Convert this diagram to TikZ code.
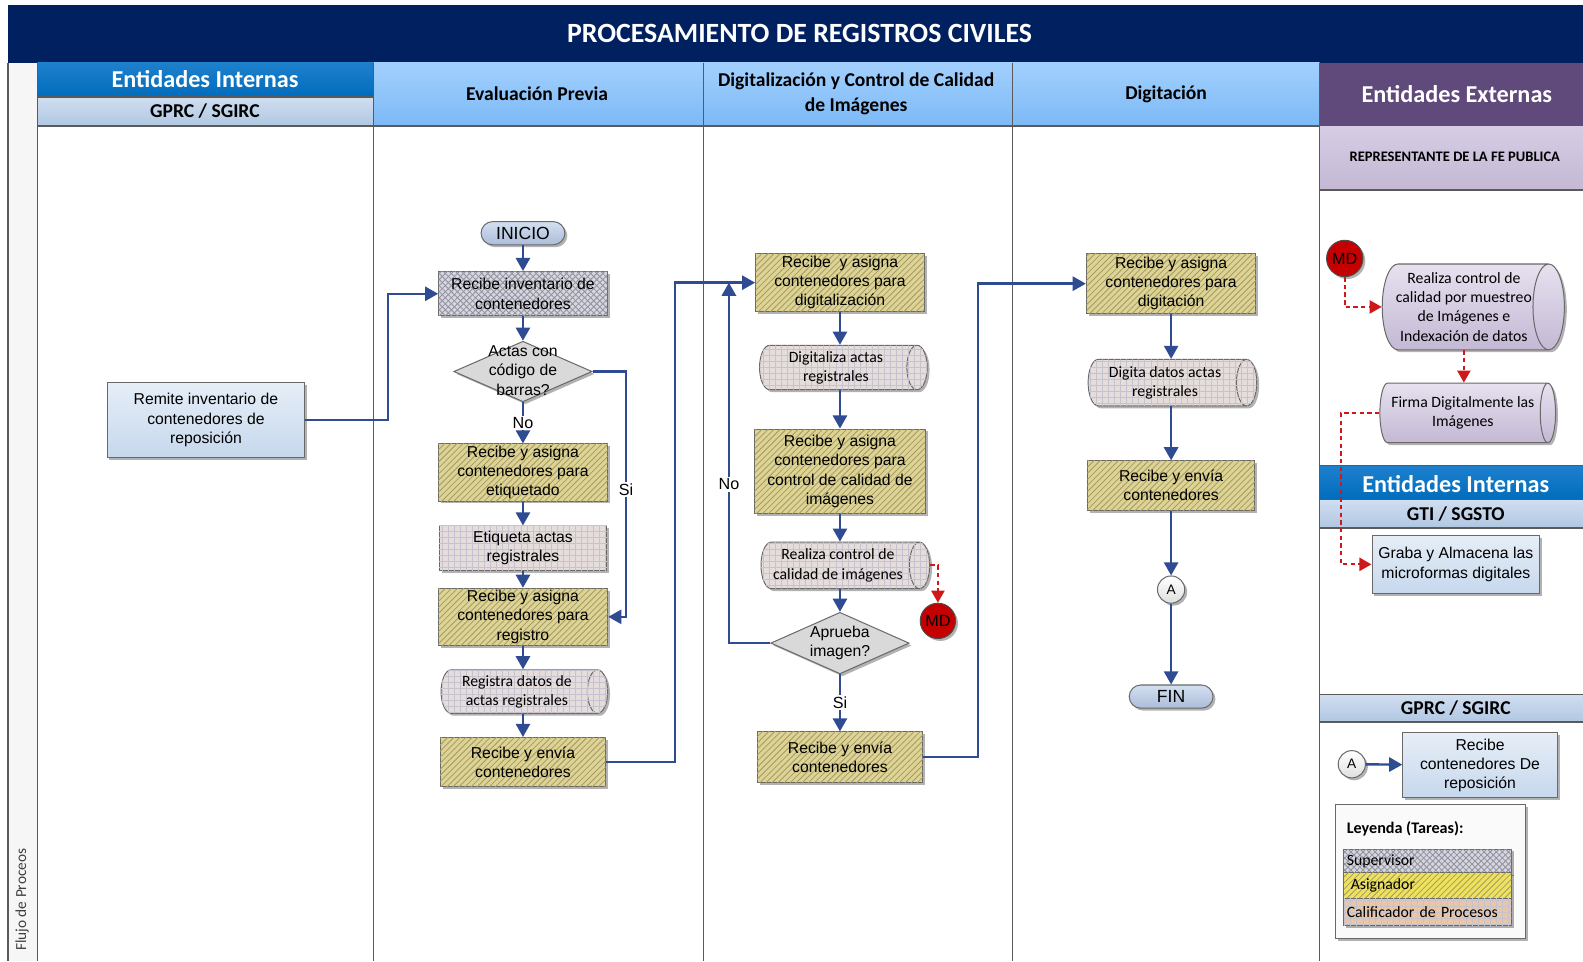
\documentclass[tikz,border=0pt]{standalone}
\usepackage{fontspec}
\setmainfont{Liberation Sans}
\newfontfamily\calibri{Carlito}
\usepackage{tikz}
\usetikzlibrary{arrows.meta}
\usetikzlibrary{shapes.geometric}
\usetikzlibrary{patterns}
\usetikzlibrary{shadows}
\definecolor{marino}{RGB}{0,32,96}
\definecolor{azulent}{RGB}{0,108,188}
\definecolor{azulentclaro}{RGB}{30,128,205}
\definecolor{gprcA}{RGB}{208,222,240}
\definecolor{gprcB}{RGB}{176,199,226}
\definecolor{colA}{RGB}{162,208,253}
\definecolor{colB}{RGB}{124,185,246}
\definecolor{morado}{RGB}{96,74,123}
\definecolor{moradoA}{RGB}{214,205,228}
\definecolor{moradoB}{RGB}{196,184,212}
\definecolor{flecha}{RGB}{47,75,145}
\definecolor{rojo}{RGB}{196,0,0}
\definecolor{discont}{RGB}{205,25,25}
\definecolor{caqui}{RGB}{221,211,148}
\definecolor{caquilinea}{RGB}{165,155,100}
\definecolor{gris}{RGB}{214,214,222}
\definecolor{grislinea}{RGB}{145,145,160}
\definecolor{rosado}{RGB}{229,221,219}
\definecolor{rosadolinea}{RGB}{198,194,206}
\definecolor{cajaA}{RGB}{230,238,247}
\definecolor{cajaB}{RGB}{198,216,237}
\definecolor{borde}{RGB}{105,105,105}
\definecolor{carril}{RGB}{90,90,90}
\tikzstyle{letra}=[font=\fontsize{7.8}{9.5}\selectfont]
\tikzstyle{letracal}=[font=\calibri\fontsize{7.8}{9.5}\selectfont]
\tikzstyle{sombra}=[drop shadow={shadow xshift=1.2pt, shadow yshift=-1.2pt, opacity=0.3, fill=black}]
\tikzstyle{tarea}=[draw=borde, line width=0.5pt, align=center, inner sep=1pt, letra, sombra]
\tikzstyle{supervisor}=[tarea, fill=gris, postaction={pattern=crosshatch, pattern color=grislinea}]
\tikzstyle{asignador}=[tarea, fill=caqui, postaction={pattern=north east lines, pattern color=caquilinea}]
\tikzstyle{calificador}=[tarea, fill=rosado, postaction={pattern=grid, pattern color=rosadolinea}]
\tikzstyle{cilindro}=[calificador, cylinder, shape aspect=0.55, letracal]
\tikzstyle{externo}=[tarea, cylinder, shape aspect=0.45, inner sep=0.3pt, letracal, top color=moradoA!60!white, bottom color=moradoB]
\tikzstyle{caja}=[tarea, top color=cajaA, bottom color=cajaB]
\tikzstyle{terminal}=[draw=borde, line width=0.5pt, rounded corners=5.75pt, minimum width=41.5pt, minimum height=11.5pt, inner sep=0pt, top color=cajaB!80!white, bottom color=cajaB!60!flecha!70!white, font=\fontsize{8.7}{9}\selectfont, sombra]
\tikzstyle{rombo}=[diamond, draw=borde, line width=0.5pt, fill=gray!30, minimum width=68.5pt, minimum height=30pt, inner sep=0pt, sombra]
\tikzstyle{md}=[circle, draw=black!70, line width=0.5pt, fill=rojo, minimum size=17.5pt, inner sep=0pt, font=\fontsize{8}{9}\selectfont, sombra]
\tikzstyle{conector}=[circle, draw=borde, line width=0.5pt, top color=white, bottom color=gray!25, minimum size=13.5pt, inner sep=0pt, font=\fontsize{6.8}{7}\selectfont, sombra]
\tikzstyle{flujo}=[draw=flecha, line width=1.2pt, -{Triangle[length=6.5pt, width=7pt]}]
\tikzstyle{flujomd}=[draw=discont, line width=1.1pt, dash pattern=on 2.2pt off 1.6pt, -{Triangle[length=6pt, width=6.5pt]}]
\tikzstyle{rotulo}=[fill=white, inner sep=0.8pt, font=\fontsize{8}{9}\selectfont]
\tikzstyle{cabecera}=[font=\calibri\bfseries\fontsize{9.7}{12}\selectfont, align=center]
\tikzstyle{entidad}=[font=\calibri\bfseries\fontsize{12}{14}\selectfont, text=white]
\tikzstyle{lineacarril}=[draw=carril, line width=0.7pt]

\begin{document}
\begin{tikzpicture}[x=0.5pt, y=-0.5pt]
  \useasboundingbox (0,0) rectangle (1568,952);

  % cabeceras
  \fill[marino] (8,5) rectangle (1568,62);
  \node[font=\calibri\bfseries\fontsize{13.8}{15}\selectfont, text=white] (titulo) at (792,33) {PROCESAMIENTO DE REGISTROS CIVILES};
  \fill[gray!7] (8,62) rectangle (37,952);
  \node[rotate=90, anchor=west, font=\calibri\fontsize{7.6}{9}\selectfont, text=black!75] (flujoproc) at (22,949) {Flujo de Proceos};
  \shade[top color=azulentclaro, bottom color=azulent] (37,62) rectangle (370,96);
  \shade[top color=gprcA, bottom color=gprcB] (37,96) rectangle (370,125);
  \shade[top color=colA, bottom color=colB] (370,62) rectangle (1307,125);
  \fill[morado] (1307,62) rectangle (1568,125);
  \shade[top color=moradoA, bottom color=moradoB] (1307,125) rectangle (1568,188);
  \shade[top color=azulentclaro, bottom color=azulent] (1307,461) rectangle (1568,495);
  \shade[top color=gprcA, bottom color=gprcB] (1307,495) rectangle (1568,523);
  \shade[top color=gprcA, bottom color=gprcB] (1307,688) rectangle (1568,715);
  \node[entidad] (entint) at (203,78) {Entidades Internas};
  \node[cabecera] (gprc) at (203,110) {GPRC / SGIRC};
  \node[cabecera] (evalprev) at (532,93) {Evaluación Previa};
  \node[cabecera] (digcal) at (848,93) {Digitalización y Control de Calidad\\de Imágenes};
  \node[cabecera] (digitac) at (1155,93) {Digitación};
  \node[entidad] (entext) at (1443,93) {Entidades Externas};
  \node[font=\calibri\bfseries\fontsize{7.2}{9}\selectfont] (repfe) at (1441,155) {REPRESENTANTE DE LA FE PUBLICA};
  \node[entidad] (entint2) at (1442,479) {Entidades Internas};
  \node[cabecera] (gti) at (1442,509) {GTI / SGSTO};
  \node[cabecera] (gprc2) at (1442,701) {GPRC / SGIRC};
  \foreach \x in {8,37,370,697,1003,1307}
    \draw[lineacarril] (\x,62) -- (\x,952);
  \draw[lineacarril] (37,96) -- (370,96);
  \draw[lineacarril] (37,125) -- (1307,125);
  \draw[lineacarril] (1307,188) -- (1568,188);
  \draw[lineacarril] (1307,461) -- (1568,461);
  \draw[lineacarril] (1307,495) -- (1568,495);
  \draw[lineacarril] (1307,523) -- (1568,523);
  \draw[lineacarril] (1307,688) -- (1568,688);
  \draw[lineacarril] (1307,715) -- (1568,715);

  % tareas
  \node[caja, minimum width=98pt, minimum height=37.5pt] (remite) at (204,416) {Remite inventario de\\contenedores de\\reposición};
  \node[terminal] (inicio) at (518,231) {INICIO};
  \node[supervisor, minimum width=83.5pt, minimum height=22pt] (recinv) at (518,291) {Recibe inventario de\\contenedores};
  \node[rombo] (barras) at (518,368) {};
  \node[letra, align=center] (barrastxt) at (518,367) {Actas con\\código de\\barras?};
  \node[asignador, minimum width=84pt, minimum height=28pt] (asigetiq) at (518,468) {Recibe y asigna\\contenedores para\\etiquetado};
  \node[calificador, minimum width=83pt, minimum height=22pt] (etiqueta) at (518,543) {Etiqueta actas\\registrales};
  \node[asignador, minimum width=84pt, minimum height=27.5pt] (asigreg) at (518,611) {Recibe y asigna\\contenedores para\\registro};
  \node[cilindro, minimum height=82.5pt, minimum width=21.5pt] (registra) at (512,685) {Registra datos de\\actas registrales};
  \node[asignador, minimum width=82pt, minimum height=24.5pt] (enviaep) at (518,755) {Recibe y envía\\contenedores};

  \node[asignador, minimum width=83.5pt, minimum height=29pt] (asigdig) at (832,280) {Recibe\ \ y asigna\\contenedores para\\digitalización};
  \node[cilindro, minimum height=83pt, minimum width=22pt] (digitaliza) at (828,364) {Digitaliza actas\\registrales};
  \node[asignador, minimum width=84.5pt, minimum height=42pt] (asigcc) at (832,467) {Recibe y asigna\\contenedores para\\control de calidad de\\imágenes};
  \node[cilindro, minimum height=83.5pt, minimum width=23pt] (realiza) at (830,560) {Realiza control de\\calidad de imágenes};
  \node[rombo, minimum height=30.5pt] (aprueba) at (832,637) {};
  \node[letra, align=center] (apruebatxt) at (832,637) {Aprueba\\imagen?};
  \node[asignador, minimum width=82pt, minimum height=25pt] (enviadc) at (832,750) {Recibe y envía\\contenedores};
  \node[md] (md1) at (929,615) {MD};

  \node[asignador, minimum width=84pt, minimum height=30pt] (asigdigit) at (1160,281) {Recibe y asigna\\contenedores para\\digitación};
  \node[cilindro, minimum height=83.5pt, minimum width=23pt] (digita) at (1154,379) {Digita datos actas\\registrales};
  \node[asignador, minimum width=83pt, minimum height=24.5pt] (enviadg) at (1160,481) {Recibe y envía\\contenedores};
  \node[conector] (a1) at (1160,584) {A};
  \node[terminal] (fin) at (1160,690) {FIN};

  \node[md, minimum size=18pt] (md2) at (1332,256) {MD};
  \node[externo, minimum height=88.5pt, minimum width=42.5pt] (muestreo) at (1450,304) {Realiza control de\\calidad por muestreo\\de Imágenes e\\Indexación de datos};
  \node[externo, minimum height=87pt, minimum width=29.5pt] (firma) at (1449,409) {Firma Digitalmente las\\Imágenes};
  \node[caja, minimum width=83pt, minimum height=28.5pt] (graba) at (1442,559) {Graba y Almacena las\\microformas digitales};
  \node[conector] (a2) at (1339,757) {A};
  \node[caja, minimum width=76.5pt, minimum height=32pt] (reciberep) at (1466,758) {Recibe\\contenedores De\\reposición};

  % leyenda
  \node[draw=borde, line width=0.5pt, fill=gray!4, minimum width=94.5pt, minimum height=66.5pt, sombra] (leyenda) at (1417,863) {};
  \node[anchor=west, font=\calibri\bfseries\fontsize{8}{9}\selectfont] (leytit) at (1327,821) {Leyenda (Tareas):};
  \node[supervisor, letracal, text width=80pt, align=left, minimum height=12pt, inner sep=1.5pt, drop shadow={opacity=0}] (leysup) at (1414,853) {Supervisor};
  \node[tarea, letracal, fill=yellow!45!caqui, postaction={pattern=north east lines, pattern color=caquilinea}, text width=80pt, align=left, minimum height=12.5pt, inner sep=1.5pt, drop shadow={opacity=0}] (leyasig) at (1414,877) {\hspace{2pt}Asignador};
  \node[tarea, letracal, fill=orange!25!rosado, postaction={pattern=grid, pattern color=rosadolinea}, text width=80pt, align=left, minimum height=13.5pt, inner sep=1.5pt, drop shadow={opacity=0}] (leycal) at (1414,903) {Calificador de Procesos};

  % flujos
  \draw[flujo] (remite.east) -- ++(82,0) |- (recinv.west);
  \draw[flujo] (inicio) -- (recinv);
  \draw[flujo] (recinv) -- (barras);
  \draw[flujo] (barras) -- node[rotulo] {No} (asigetiq);
  \draw[flujo] (barras.east) -- ++(33,0) |- node[rotulo, pos=0.24] {Si} (asigreg.east);
  \draw[flujo] (asigetiq) -- (etiqueta);
  \draw[flujo] (etiqueta) -- (asigreg);
  \draw[flujo] (asigreg) -- (asigreg |- registra.north);
  \draw[flujo] (asigreg |- registra.south) -- (enviaep);
  \draw[flujo] (enviaep.east) -- ++(68,0) |- (asigdig.west);
  \draw[flujo] (asigdig) -- (asigdig |- digitaliza.north);
  \draw[flujo] (asigdig |- digitaliza.south) -- (asigcc);
  \draw[flujo] (asigcc) -- (asigcc |- realiza.north);
  \draw[flujo] (asigcc |- realiza.south) -- (aprueba);
  \draw[flujo] (aprueba.west) -| node[rotulo, pos=0.72] {No} ([xshift=-13pt]asigdig.west);
  \draw[flujo] (aprueba) -- node[rotulo] {Si} (enviadc);
  \draw[flujomd] (realiza.east) -| (md1.north);
  \draw[flujo] (enviadc.east) -- ++(54,0) |- (asigdigit.west);
  \draw[flujo] (asigdigit) -- (asigdigit |- digita.north);
  \draw[flujo] (asigdigit |- digita.south) -- (enviadg);
  \draw[flujo] (enviadg) -- (a1);
  \draw[flujo] (a1) -- (fin);
  \draw[flujomd] (md2.south) |- (muestreo.west);
  \draw[flujomd] (muestreo.south) -- (muestreo.south |- firma.north);
  \draw[flujomd] (firma.west) -- ++(-38,0) |- (graba.west);
  \draw[flujo] (a2) -- (reciberep);
\end{tikzpicture}
\end{document}
